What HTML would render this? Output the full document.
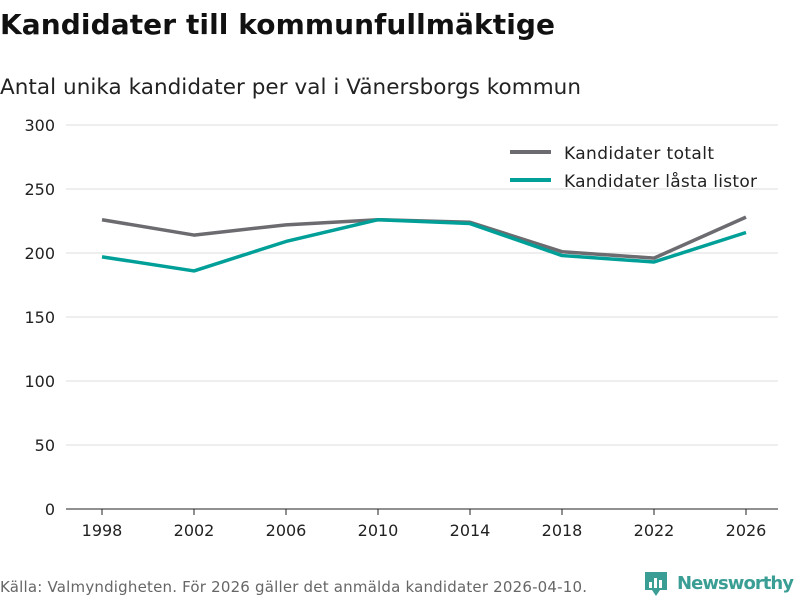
<!DOCTYPE html>
<html><head><meta charset="utf-8"><style>
body{margin:0;background:#fff;width:800px;height:600px;overflow:hidden;font-family:"DejaVu Sans","Liberation Sans",sans-serif;}
</style></head><body>
<svg width="800" height="600" xmlns="http://www.w3.org/2000/svg">
<text x="0" y="34" font-size="28" font-weight="bold" fill="#111" textLength="555">Kandidater till kommunfullmäktige</text>
<text x="0" y="94" font-size="21.5" fill="#222" textLength="581">Antal unika kandidater per val i Vänersborgs kommun</text>
<g id="grid"></g><g id="xaxis"></g><g id="lines"></g>
<g>
<line x1="510" y1="152" x2="551" y2="152" stroke="#6c6b70" stroke-width="4"/>
<text x="564" y="159" font-size="17" fill="#222" textLength="150">Kandidater totalt</text>
<line x1="510" y1="180" x2="551" y2="180" stroke="#00a099" stroke-width="4"/>
<text x="564" y="187" font-size="17" fill="#222" textLength="193">Kandidater låsta listor</text>
</g>
<text x="0" y="592" font-size="15" fill="#666" textLength="587">Källa: Valmyndigheten. För 2026 gäller det anmälda kandidater 2026-04-10.</text>
<g>
<path d="M645 572 h22 v18 h-7 l-4 6 l-4 -6 h-7z" fill="#3a9e95"/>
<rect x="649" y="582" width="3" height="6" fill="#fff"/><rect x="654" y="578" width="3" height="10" fill="#fff"/><rect x="659" y="580" width="3" height="8" fill="#fff"/>
<text x="677" y="589" font-size="18" font-weight="bold" fill="#3a9e95" textLength="117">Newsworthy</text>
</g>
</svg>
<script>
const years=[1998,2002,2006,2010,2014,2018,2022,2026];
const totalt=[226,214,222,226,224,201,196,228];
const lasta=[197,186,209,226,223,198,193,216];
const yTicks=[0,50,100,150,200,250,300];
const NS="http://www.w3.org/2000/svg";
const x=v=>102+(v-1998)*23;
const y=v=>509-v*1.28;
function mk(tag,attrs,parent){const e=document.createElementNS(NS,tag);for(const k in attrs)e.setAttribute(k,attrs[k]);parent.appendChild(e);return e;}
const grid=document.getElementById('grid');
yTicks.forEach(t=>{
 const l=mk('line',{x1:66,x2:778,y1:y(t),y2:y(t),stroke:t===0?'#222':'#ddd','stroke-width':1},grid);
 
 
 const tx=mk('text',{x:55,y:y(t)+6,'text-anchor':'end','font-size':16,fill:'#222'},grid);
 tx.textContent=t;
 
 
});
const xa=document.getElementById('xaxis');
years.forEach(yr=>{
 const tk=mk('line',{x1:x(yr),x2:x(yr),y1:509,y2:515,stroke:'#222'},xa);
 
 
 const tx=mk('text',{x:x(yr),y:536,'text-anchor':'middle','font-size':16,fill:'#222'},xa);
 tx.textContent=yr;
 
 
});
const lg=document.getElementById('lines');
[[totalt,'#6c6b70','line-totalt'],[lasta,'#00a099','line-lasta']].forEach(([d,c,n])=>{
 const p=mk('polyline',{points:d.map((v,i)=>x(years[i])+','+y(v)).join(' '),fill:'none',stroke:c,'stroke-width':3.5,'stroke-linejoin':'round'},lg);
 
 
});
</script>
</body></html>
